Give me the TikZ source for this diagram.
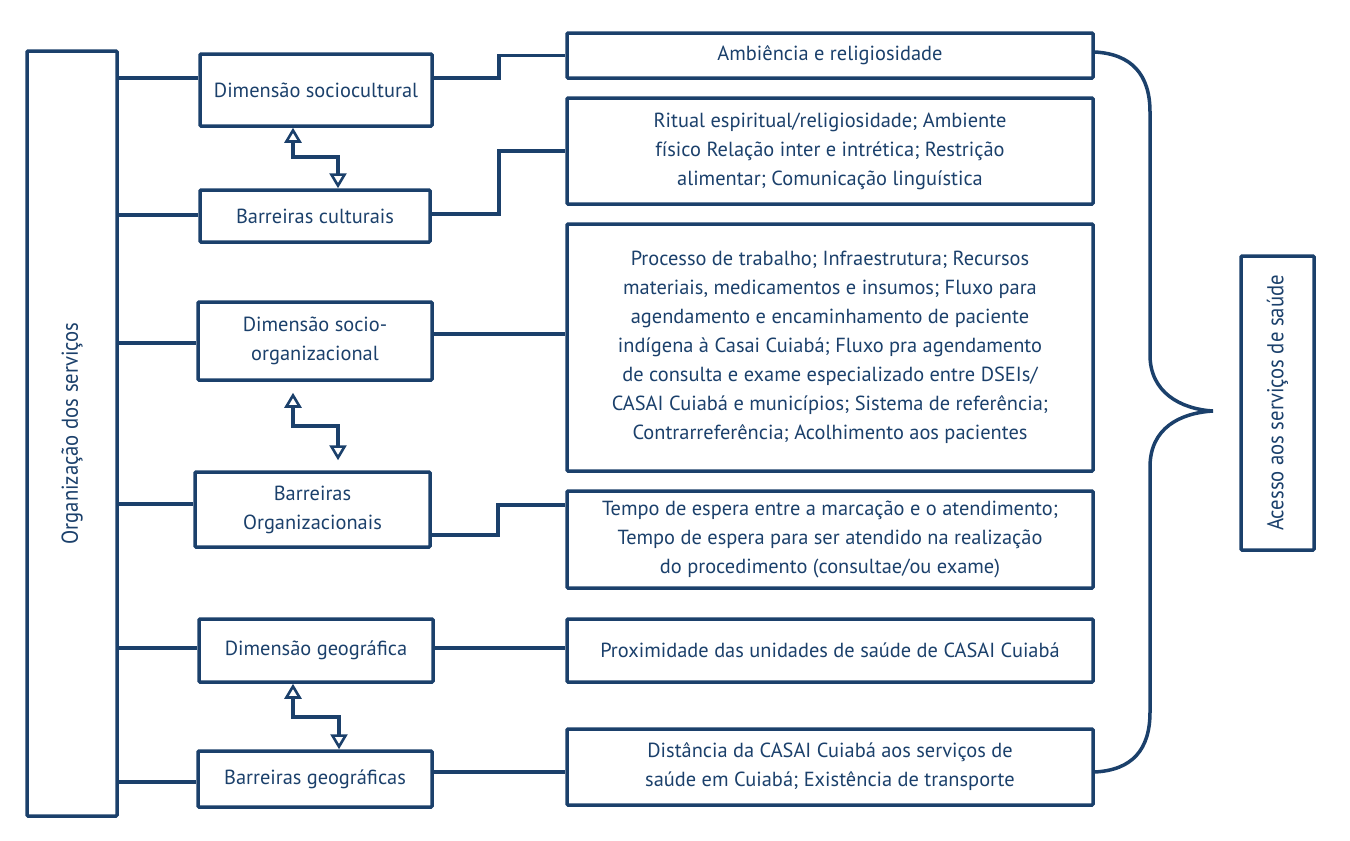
\documentclass[tikz,border=0pt]{standalone}
\usepackage{xcolor}
\usepackage{fontspec}
\setmainfont{PT Sans}
\newfontfamily\narrowfont[FakeStretch=0.9]{PT Sans}
\usepackage{tikz}
\usetikzlibrary{arrows.meta,calc}
\definecolor{navy}{HTML}{1B406B}

\begin{document}
\begin{tikzpicture}[x=1pt,y=-1pt]
    \tikzstyle{every node}=[font=\fontsize{20.4}{29}\selectfont, text=navy, align=center, inner sep=0pt]
    \tikzstyle{box}=[draw=navy, line width=3.5pt, rounded corners=1pt]
    \tikzstyle{link}=[draw=navy, line width=3.5pt]
    \tikzstyle{twoway}=[draw=navy, line width=3.5pt, {Triangle[open, width=17pt, length=15pt, line width=2.6pt]}-{Triangle[open, width=17pt, length=15pt, line width=2.6pt]}]
    \useasboundingbox (0,0) rectangle (1350,841);
    % left column
    \node[box, minimum width=90pt, minimum height=765pt] (org) at (72,433.5) {}; %
    \node[font=\fontsize{23}{26}\narrowfont, rotate=90] at (org.center) {Organização dos serviços}; %
    \node[box, minimum width=232pt, minimum height=72pt] (dimsc) at (316,90) {Dimensão sociocultural}; %
    \node[box, minimum width=230pt, minimum height=52pt] (barcult) at (315,216) {Barreiras culturais}; %
    \node[box, minimum width=234pt, minimum height=78pt] (dimorg) at (315,341) {Dimensão socio-\\organizacional}; %
    \node[box, minimum width=235pt, minimum height=75pt] (barorg) at (312.5,509.5) {Barreiras\\Organizacionais}; %
    \node[box, minimum width=234pt, minimum height=63pt] (dimgeo) at (316,650.5) {Dimensão geográfica}; %
    \node[box, minimum width=234pt, minimum height=56pt] (bargeo) at (315,779) {Barreiras geográficas}; %
    % right column
    \node[box, minimum width=526pt, minimum height=45pt] (amb) at (830,55.5) {Ambiência e religiosidade}; %
    \node[box, minimum width=526pt, minimum height=106pt] (ritual) at (830,151) {Ritual espiritual/religiosidade; Ambiente\\físico Relação inter e intrética; Restrição\\alimentar; Comunicação linguística}; %
    \node[box, minimum width=526pt, minimum height=247pt] (proc) at (830,347.5) {Processo de trabalho; Infraestrutura; Recursos\\materiais, medicamentos e insumos; Fluxo para\\agendamento e encaminhamento de paciente\\indígena à Casai Cuiabá; Fluxo pra agendamento\\de consulta e exame especializado entre DSEIs/\\CASAI Cuiabá e municípios; Sistema de referência;\\Contrarreferência; Acolhimento aos pacientes}; %
    \node[box, minimum width=526pt, minimum height=97pt] (tempo) at (830,539.5) {Tempo de espera entre a marcação e o atendimento;\\Tempo de espera para ser atendido na realização\\do procedimento (consultae/ou exame)}; %
    \node[box, minimum width=526pt, minimum height=63pt] (prox) at (830,650.5) {Proximidade das unidades de saúde de CASAI Cuiabá}; %
    \node[box, minimum width=526pt, minimum height=76pt] (dist) at (830,767) {Distância da CASAI Cuiabá aos serviços de\\saúde em Cuiabá; Existência de transporte}; %
    \node[box, minimum width=73pt, minimum height=294pt] (acesso) at (1277.5,403) {}; %
    \node[font=\fontsize{23}{26}\narrowfont, rotate=90] at (acesso.center) {Acesso aos serviços de saúde}; %
    % branches from the left bar
    \draw[link] (org.east |- 0,78) -- (dimsc.west |- 0,78); %
    \draw[link] (org.east |- 0,215) -- (barcult.west |- 0,215); %
    \draw[link] (org.east |- 0,343) -- (dimorg.west |- 0,343); %
    \draw[link] (org.east |- 0,504) -- (barorg.west |- 0,504); %
    \draw[link] (org.east |- 0,648) -- (dimgeo.west |- 0,648); %
    \draw[link] (org.east |- 0,782) -- (bargeo.west |- 0,782); %
    % links to the right column
    \draw[link] (dimsc.east |- 0,78) -| (499,55.5) -- (amb.west); %
    \draw[link] (barcult.east |- 0,214) -| (499,151) -- (ritual.west); %
    \draw[link] (dimorg.east |- 0,334) -- (proc.west |- 0,334); %
    \draw[link] (barorg.east |- 0,535) -| (498,505) -- (tempo.west |- 0,505); %
    \draw[link] (dimgeo.east |- 0,648) -- (prox.west |- 0,648); %
    \draw[link] (bargeo.east |- 0,772) -- (dist.west |- 0,772); %
    % two-way arrows
    \draw[twoway] (dimsc.south -| 293,0) |- (338,157) -- (barcult.north -| 338,0); %
    \draw[twoway, shorten <=11pt, shorten >=10pt] (dimorg.south -| 293,0) |- (338,426) -- (barorg.north -| 338,0); %
    \draw[twoway] (dimgeo.south -| 293,0) |- (339,717) -- (bargeo.north -| 339,0); %
    % brace
    \draw[link] (amb.east |- 0,52) .. controls (1132,54) and (1150,75) .. (1150,112) -- (1150,355) .. controls (1150,392) and (1180,409) .. (1213,411) .. controls (1180,413) and (1150,428) .. (1150,467) -- (1150,712) .. controls (1150,750) and (1132,770) .. (dist.east |- 0,772); %
\end{tikzpicture}
\end{document}
